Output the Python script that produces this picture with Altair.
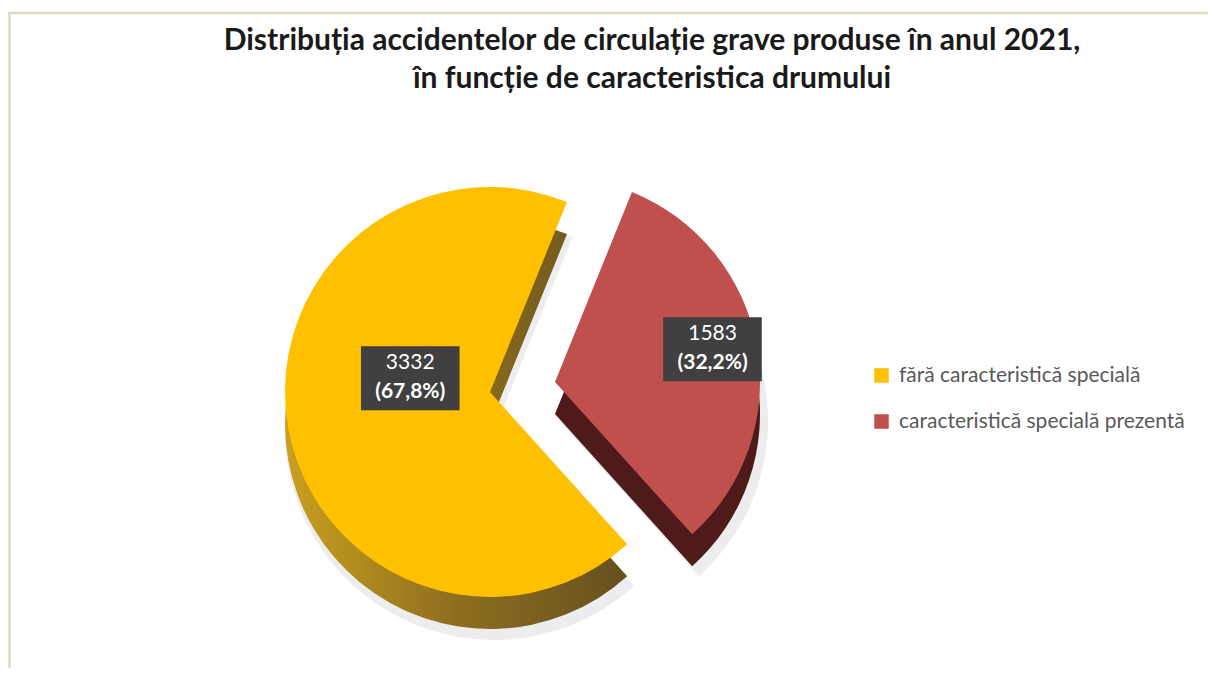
import math
import altair as alt
import pandas as pd

# ---- data -------------------------------------------------------------
title_lines = [
    "Distribuția accidentelor de circulație grave produse în anul 2021,",
    "în funcție de caracteristica drumului",
]
categories = ["fără caracteristică specială", "caracteristică specială prezentă"]
values = [3332, 1583]
count_labels = ["3332", "1583"]
pct_labels = ["(67,8%)", "(32,2%)"]
slice_order = [0, 1]

df = pd.DataFrame({
    "cat": categories,
    "value": values,
    "count": count_labels,
    "pct": pct_labels,
    "ord": slice_order,
    "box": ["███", "███"],
})

# ---- style --------------------------------------------------------------
W, H = 1200, 660
FONT = "Lato"
top_colors = ["#FFC000", "#C0504D"]
R = 205
THICK = 32
Y_C = (482, 384)    # centre of the main pie
R_C = (547, 374)    # centre of the exploded slice
start = math.radians(138)

theta = alt.Theta("value:Q", stack=True,
                  scale=alt.Scale(range=[start, start + 2 * math.pi]))
order = alt.Order("ord:Q")
is_y = alt.datum.cat == categories[0]
is_r = alt.datum.cat == categories[1]
show_y = alt.when(is_y).then(alt.value(1)).otherwise(alt.value(0))
show_r = alt.when(is_r).then(alt.value(1)).otherwise(alt.value(0))

base = alt.Chart(df)

# soft shadow
shadow_y = base.mark_arc(radius=R + 4, fill="#EDEDED").encode(
    theta=theta, order=order, opacity=show_y,
    x=alt.value(Y_C[0] + 4), y=alt.value(Y_C[1] + THICK + 7))
shadow_r = base.mark_arc(radius=R + 4, fill="#EDEDED").encode(
    theta=theta, order=order, opacity=show_r,
    x=alt.value(R_C[0] + 4), y=alt.value(R_C[1] + THICK + 7))

# sides (3D thickness)
side_y = base.mark_arc(radius=R, fill=alt.Gradient(
    gradient="linear", x1=0, x2=1, y1=0, y2=0,
    stops=[alt.GradientStop(color="#C9A020", offset=0),
           alt.GradientStop(color="#8E6E1E", offset=0.5),
           alt.GradientStop(color="#66501F", offset=1)])).encode(
    theta=theta, order=order, opacity=show_y,
    x=alt.value(Y_C[0]), y=alt.value(Y_C[1] + THICK))
side_r = base.mark_arc(radius=R, fill="#4E1A1A").encode(
    theta=theta, order=order, opacity=show_r,
    x=alt.value(R_C[0]), y=alt.value(R_C[1] + THICK))

color = alt.Color(
    "cat:N",
    scale=alt.Scale(domain=categories, range=top_colors),
    legend=alt.Legend(
        title=None, orient="none", legendX=863, legendY=357,
        symbolType="square", symbolSize=210, symbolStrokeWidth=0,
        symbolOpacity=1, labelFont=FONT, labelFontSize=21,
        labelColor="#595959", rowPadding=24, labelOffset=7,
        labelLimit=400),
)
top_y = base.mark_arc(radius=R).encode(
    theta=theta, order=order, color=color, opacity=show_y,
    x=alt.value(Y_C[0]), y=alt.value(Y_C[1]))
top_r = base.mark_arc(radius=R).encode(
    theta=theta, order=order, color=color, opacity=show_r,
    x=alt.value(R_C[0]), y=alt.value(R_C[1]))


def label_layers(center, rad, show, shift):
    common = dict(theta=theta, order=order, opacity=show,
                  x=alt.value(center[0]), y=alt.value(center[1]))
    box = base.mark_text(radius=rad, font="DejaVu Sans Mono", fontSize=54,
                         color="#404040", baseline="middle", dy=4 + shift).encode(
        text="box:N", **common)
    cnt = base.mark_text(radius=rad, font=FONT, fontSize=21, color="white",
                         baseline="middle", dy=-14 + shift).encode(
        text="count:N", **common)
    pct = base.mark_text(radius=rad, font=FONT, fontSize=21, fontWeight="bold",
                         color="white", baseline="middle", dy=15 + shift).encode(
        text="pct:N", **common)
    return [box, cnt, pct]


labels = label_layers(Y_C, 81, show_y, -29) + label_layers(R_C, 160, show_r, -6)

# title
tdf = pd.DataFrame({"t": title_lines, "i": [0, 1]})
title = alt.Chart(tdf).mark_text(font=FONT, fontSize=30, fontWeight="bold",
                                 color="#1A1A1A", baseline="middle").encode(
    text="t:N",
    x=alt.value(644),
    y=alt.Y("i:O", scale=alt.Scale(range=[33, 71], padding=0), axis=None),
)

# frame
frame_left = alt.Chart(tdf.head(1)).mark_rule(color="#DDD9C3", strokeWidth=2.5).encode(
    x=alt.value(1.5), y=alt.value(4), y2=alt.value(H + 40))
frame_top = alt.Chart(tdf.head(1)).mark_rule(color="#DDD9C3", strokeWidth=2.5).encode(
    x=alt.value(0), x2=alt.value(W + 40), y=alt.value(5))

chart = alt.layer(
    shadow_y, shadow_r, side_y, side_r, top_y, top_r, *labels,
    title, frame_left, frame_top,
).properties(
    width=W, height=H, padding=0,
    autosize=alt.AutoSizeParams(type="none"),
).configure_view(stroke=None).resolve_scale(y="independent")

chart.save("out.html", embed_options={"renderer": "svg", "actions": False})
